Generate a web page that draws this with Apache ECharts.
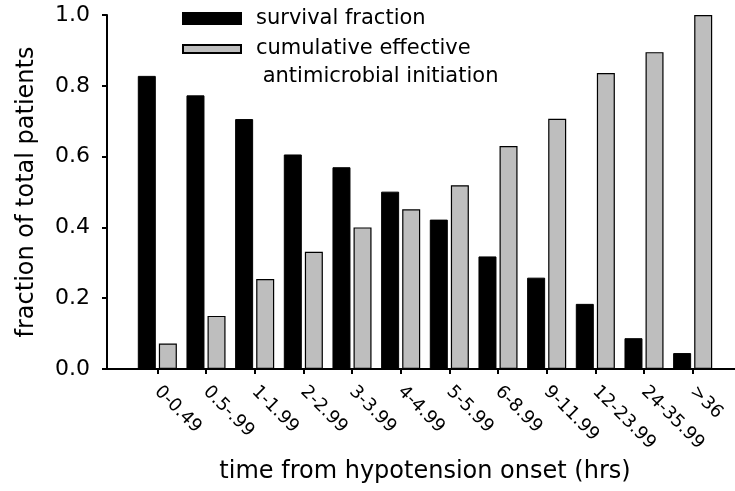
<!DOCTYPE html>
<html>
<head>
<meta charset="utf-8">
<script src="https://cdn.jsdelivr.net/npm/echarts@6/dist/echarts.min.js"></script>
<style>
html,body{margin:0;padding:0;background:#fff;}
#chart{width:735px;height:491px;}
</style>
</head>
<body>
<div id="chart"></div>
<script>
const categories = ['0-0.49', '0.5-.99', '1-1.99', '2-2.99', '3-3.99', '4-4.99', '5-5.99', '6-8.99', '9-11.99', '12-23.99', '24-35.99', '>36'];
const survivalFraction = [0.828, 0.773, 0.706, 0.606, 0.570, 0.501, 0.422, 0.318, 0.258, 0.184, 0.087, 0.045];
const cumulativeInitiation = [0.072, 0.150, 0.254, 0.331, 0.400, 0.451, 0.519, 0.630, 0.707, 0.836, 0.895, 1.0];
const yTicks = [0, 0.2, 0.4, 0.6, 0.8, 1.0];
const seriesNames = ['survival fraction', 'cumulative effective\n antimicrobial initiation'];

const FONT = 'DejaVu Sans';
const chart = echarts.init(document.getElementById('chart'), null, {renderer: 'canvas'});
chart.setOption({
  animation: false,
  backgroundColor: '#fff',
  textStyle: {fontFamily: FONT, color: '#000'},
  legend: [
    {
      data: [seriesNames[0]],
      left: 182, top: 4.5, padding: 0,
      itemWidth: 58, itemHeight: 11,
      selectedMode: false,
      icon: 'rect',
      textStyle: {fontFamily: FONT, fontSize: 21, color: '#000', lineHeight: 28, padding: [0, 0, 0, 10]}
    },
    {
      data: [seriesNames[1]],
      left: 182, top: 7, padding: 0,
      itemWidth: 58, itemHeight: 8,
      selectedMode: false,
      icon: 'rect',
      formatter: name => ' \n' + name,
      textStyle: {fontFamily: FONT, fontSize: 21, color: '#000', lineHeight: 28, padding: [0, 0, 0, 10]}
    }
  ],
  grid: [
    {left: 107, right: 0, top: 15, bottom: 122},
    {left: 133, right: 18, top: 15, bottom: 122}
  ],
  xAxis: [
    {
      gridIndex: 0, type: 'value', min: 0, max: 1,
      axisLine: {show: true, lineStyle: {color: '#000', width: 2}},
      axisTick: {show: false}, axisLabel: {show: false}, splitLine: {show: false}
    },
    {
      gridIndex: 1, type: 'category', data: categories,
      axisLine: {show: false},
      axisTick: {show: true, alignWithLabel: true, length: 5, lineStyle: {color: '#000', width: 2}},
      axisLabel: {rotate: -45, margin: 20, fontFamily: FONT, fontSize: 18, color: '#000', interval: 0},
      name: 'time from hypotension onset (hrs)',
      nameLocation: 'middle', nameGap: 84,
      nameTextStyle: {fontFamily: FONT, fontSize: 24, color: '#000'}
    }
  ],
  yAxis: [
    {
      gridIndex: 0, type: 'value', min: 0, max: 1, interval: 0.2,
      axisLine: {show: true, lineStyle: {color: '#000', width: 2}},
      axisTick: {show: true, length: 5, lineStyle: {color: '#000', width: 2}},
      axisLabel: {margin: 17, fontFamily: FONT, fontSize: 22, color: '#000',
        formatter: v => yTicks.indexOf(+v.toFixed(1)) >= 0 ? v.toFixed(1) : ''},
      splitLine: {show: false},
      name: 'fraction of total patients',
      nameLocation: 'middle', nameGap: 68,
      nameTextStyle: {fontFamily: FONT, fontSize: 24, color: '#000'}
    },
    {
      gridIndex: 1, type: 'value', min: 0, max: 1,
      show: false, splitLine: {show: false}
    }
  ],
  series: [
    {
      name: seriesNames[0], type: 'bar', xAxisIndex: 1, yAxisIndex: 1,
      data: survivalFraction, barWidth: 18, barGap: '17%',
      itemStyle: {color: '#000', borderColor: '#000', borderWidth: 1}
    },
    {
      name: seriesNames[1], type: 'bar', xAxisIndex: 1, yAxisIndex: 1,
      data: cumulativeInitiation, barWidth: 18, barGap: '17%',
      itemStyle: {color: '#bebebe', borderColor: '#000', borderWidth: 1.2}
    }
  ]
});
</script>
</body>
</html>
